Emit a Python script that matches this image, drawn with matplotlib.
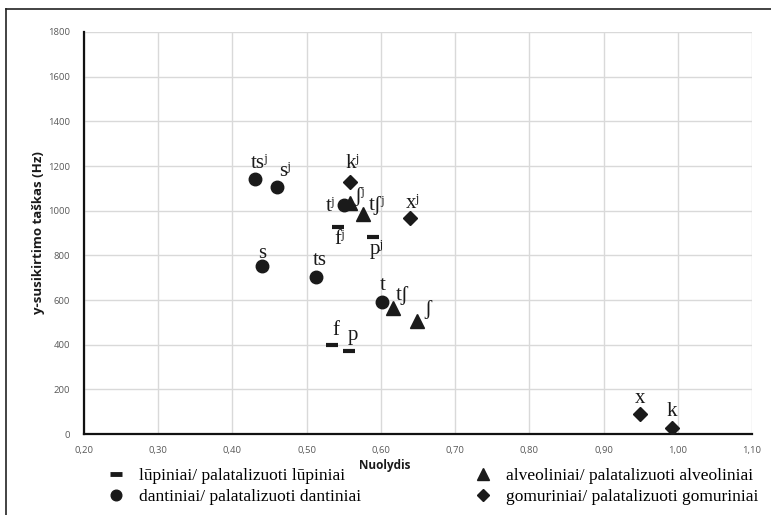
import matplotlib.pyplot as plt
import matplotlib.lines as mlines
from matplotlib.ticker import FuncFormatter, MultipleLocator

# slope (Nuolydis) and y-intercept (Hz) per consonant, grouped by place of articulation
labial_labels = ["f", "p", "fʲ", "pʲ"]
labial_x = [0.534, 0.557, 0.542, 0.589]
labial_y = [399, 372, 927, 882]

dental_labels = ["s", "ts", "t", "sʲ", "tsʲ", "tʲ"]
dental_x = [0.440, 0.513, 0.602, 0.460, 0.430, 0.550]
dental_y = [752, 703, 591, 1106, 1142, 1025]

alveolar_labels = ["ʃ", "tʃ", "ʃʲ", "tʃʲ"]
alveolar_x = [0.649, 0.616, 0.558, 0.576]
alveolar_y = [506, 564, 1034, 985]

palatal_labels = ["k", "x", "kʲ", "xʲ"]
palatal_x = [0.992, 0.949, 0.558, 0.639]
palatal_y = [27, 90, 1128, 967]

legend_labels = [
    "lūpiniai/ palatalizuoti lūpiniai",
    "dantiniai/ palatalizuoti dantiniai",
    "alveoliniai/ palatalizuoti alveoliniai",
    "gomuriniai/ palatalizuoti gomuriniai",
]

# label offsets from the marker, in pixels (dx right, dy up)
label_offsets = {
    "f": (4, 14), "p": (4, 15), "fʲ": (2, -13), "pʲ": (4, -12),
    "s": (0, 13), "ts": (3, 16), "t": (0, 17), "sʲ": (8, 15),
    "tsʲ": (5, 15), "tʲ": (-13, -1),
    "ʃ": (11, 11), "tʃ": (9, 13), "ʃʲ": (10, 7), "tʃʲ": (14, 9),
    "k": (0, 16), "x": (0, 15), "kʲ": (3, 19), "xʲ": (3, 15),
}

serif = ["Liberation Serif", "DejaVu Serif"]
ink = "#1a1a1a"

fig = plt.figure(figsize=(7.71, 5.15), dpi=100)
ax = fig.add_axes([84 / 771, 81 / 515, 668 / 771, 402 / 515])

groups = [
    (labial_x, labial_y, labial_labels, dict(marker="_", ms=9, mew=3)),
    (dental_x, dental_y, dental_labels, dict(marker="o", ms=9)),
    (alveolar_x, alveolar_y, alveolar_labels, dict(marker="^", ms=9.5)),
    (palatal_x, palatal_y, palatal_labels, dict(marker="D", ms=7.5)),
]

handles = []
for xs, ys, labels, style in groups:
    ax.plot(xs, ys, ls="none", color=ink, mec=ink, zorder=3, **style)
    for x, y, lab in zip(xs, ys, labels):
        dx, dy = label_offsets[lab]
        ax.annotate(lab, (x, y), xytext=(dx, dy), textcoords="offset pixels",
                    ha="center", va="center", fontsize=15, family=serif,
                    color=ink, zorder=4)
    hstyle = dict(style)
    if hstyle["marker"] == "_":
        hstyle.update(ms=8, mew=3.5)
    else:
        hstyle["ms"] = hstyle["ms"] * 0.85
    handles.append(mlines.Line2D([], [], ls="none", color=ink, mec=ink, **hstyle))

ax.set_xlim(0.2, 1.1)
ax.set_ylim(0, 1800)
ax.xaxis.set_major_locator(MultipleLocator(0.1))
ax.yaxis.set_major_locator(MultipleLocator(200))
ax.xaxis.set_major_formatter(FuncFormatter(lambda v, p: f"{v:.2f}".replace(".", ",")))
ax.yaxis.set_major_formatter(FuncFormatter(lambda v, p: f"{v:.0f}"))
ax.grid(True, color="#d9d9d9", lw=1)
ax.set_axisbelow(True)
for side in ("top", "right"):
    ax.spines[side].set_visible(False)
for side in ("left", "bottom"):
    ax.spines[side].set_linewidth(1.6)
    ax.spines[side].set_color("#111111")
ax.tick_params(length=0, labelsize=6.8, labelcolor="#595959")
ax.tick_params(axis="x", pad=9)
ax.tick_params(axis="y", pad=10)
for t in ax.get_xticklabels() + ax.get_yticklabels():
    t.set_family("Open Sans")

ax.set_ylabel("y-susikirtimo taškas (Hz)", fontsize=9.5, fontweight="bold",
              family="Open Sans", color="#1a1a1a")
ax.yaxis.set_label_coords(-0.058, 0.5)
fig.text(385 / 771, 1 - 466 / 515, "Nuolydis", ha="center", va="center",
         fontsize=8.5, fontweight="bold", family="Open Sans", color="#1a1a1a")

legend_kw = dict(frameon=False, loc="upper left", handlelength=1.0,
                 handletextpad=0.8, labelspacing=0.3,
                 prop={"family": serif, "size": 12.5})
fig.legend(handles[:2], legend_labels[:2], bbox_to_anchor=(92 / 771, 1 - 452 / 515),
           **legend_kw)
fig.legend(handles[2:], legend_labels[2:], bbox_to_anchor=(459 / 771, 1 - 452 / 515),
           **legend_kw)

# frame lines along the top and left edge of the figure
fig.add_artist(mlines.Line2D([6 / 771, 1], [1 - 9 / 515, 1 - 9 / 515],
                             transform=fig.transFigure, color="#222222", lw=1.2))
fig.add_artist(mlines.Line2D([6 / 771, 6 / 771], [0, 1 - 9 / 515],
                             transform=fig.transFigure, color="#222222", lw=1.2))

fig.savefig("out.png", dpi=100)
